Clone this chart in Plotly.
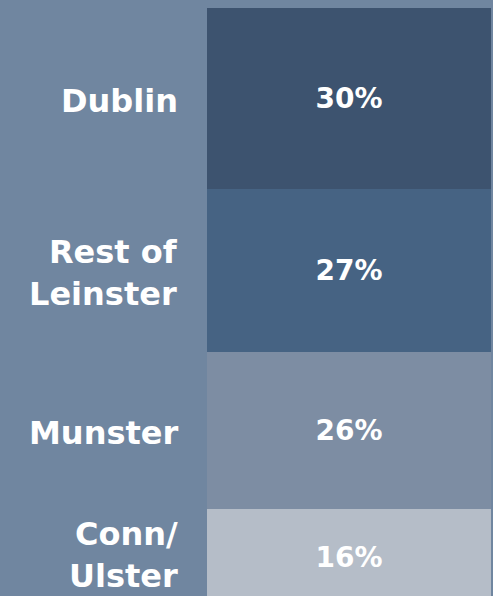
import plotly.graph_objects as go

# regions, listed bottom to top of the stacked column
regions = ["Conn/<br>Ulster", "Munster", "Rest of<br>Leinster", "Dublin"]
shares = [16, 26, 27, 30]
colors = ["#b5bdc8", "#7d8da3", "#466383", "#3d536f"]

bg = "#7086a0"
y_range = [1.5, 100.33]

fig = go.Figure()

for name, val, col in zip(regions, shares, colors):
    fig.add_trace(go.Bar(
        x=["share"],
        y=[val],
        name=name,
        marker=dict(color=col, line=dict(width=0)),
        text=[f"{val}%"],
        textposition="inside",
        insidetextanchor="middle",
        textangle=0,
        textfont=dict(family="DejaVu Sans", size=28, color="white", weight="bold"),
        hoverinfo="skip",
    ))

# region names to the left of each segment, centred on its visible part
base = 0
for name, val in zip(regions, shares):
    lo = max(base, y_range[0])
    fig.add_annotation(
        x=0, xref="paper", xshift=-27,
        y=(lo + base + val) / 2, yref="y", yshift=-3,
        text=name,
        xanchor="right",
        yanchor="middle",
        align="right",
        showarrow=False,
        font=dict(family="DejaVu Sans", size=32, color="white", weight="bold"),
    )
    base += val

fig.update_layout(
    width=493,
    height=596,
    barmode="stack",
    bargap=0,
    showlegend=False,
    paper_bgcolor=bg,
    plot_bgcolor=bg,
    margin=dict(l=207, r=2, t=0, b=0),
    xaxis=dict(visible=False),
    yaxis=dict(visible=False, range=y_range),
    uniformtext=dict(mode=False),
)

# drop the default page margin so the chart fills the window
fig.write_html(
    "out.html",
    config={"displayModeBar": False},
    post_script="document.body.style.margin='0';document.body.style.background='%s';" % bg,
)
